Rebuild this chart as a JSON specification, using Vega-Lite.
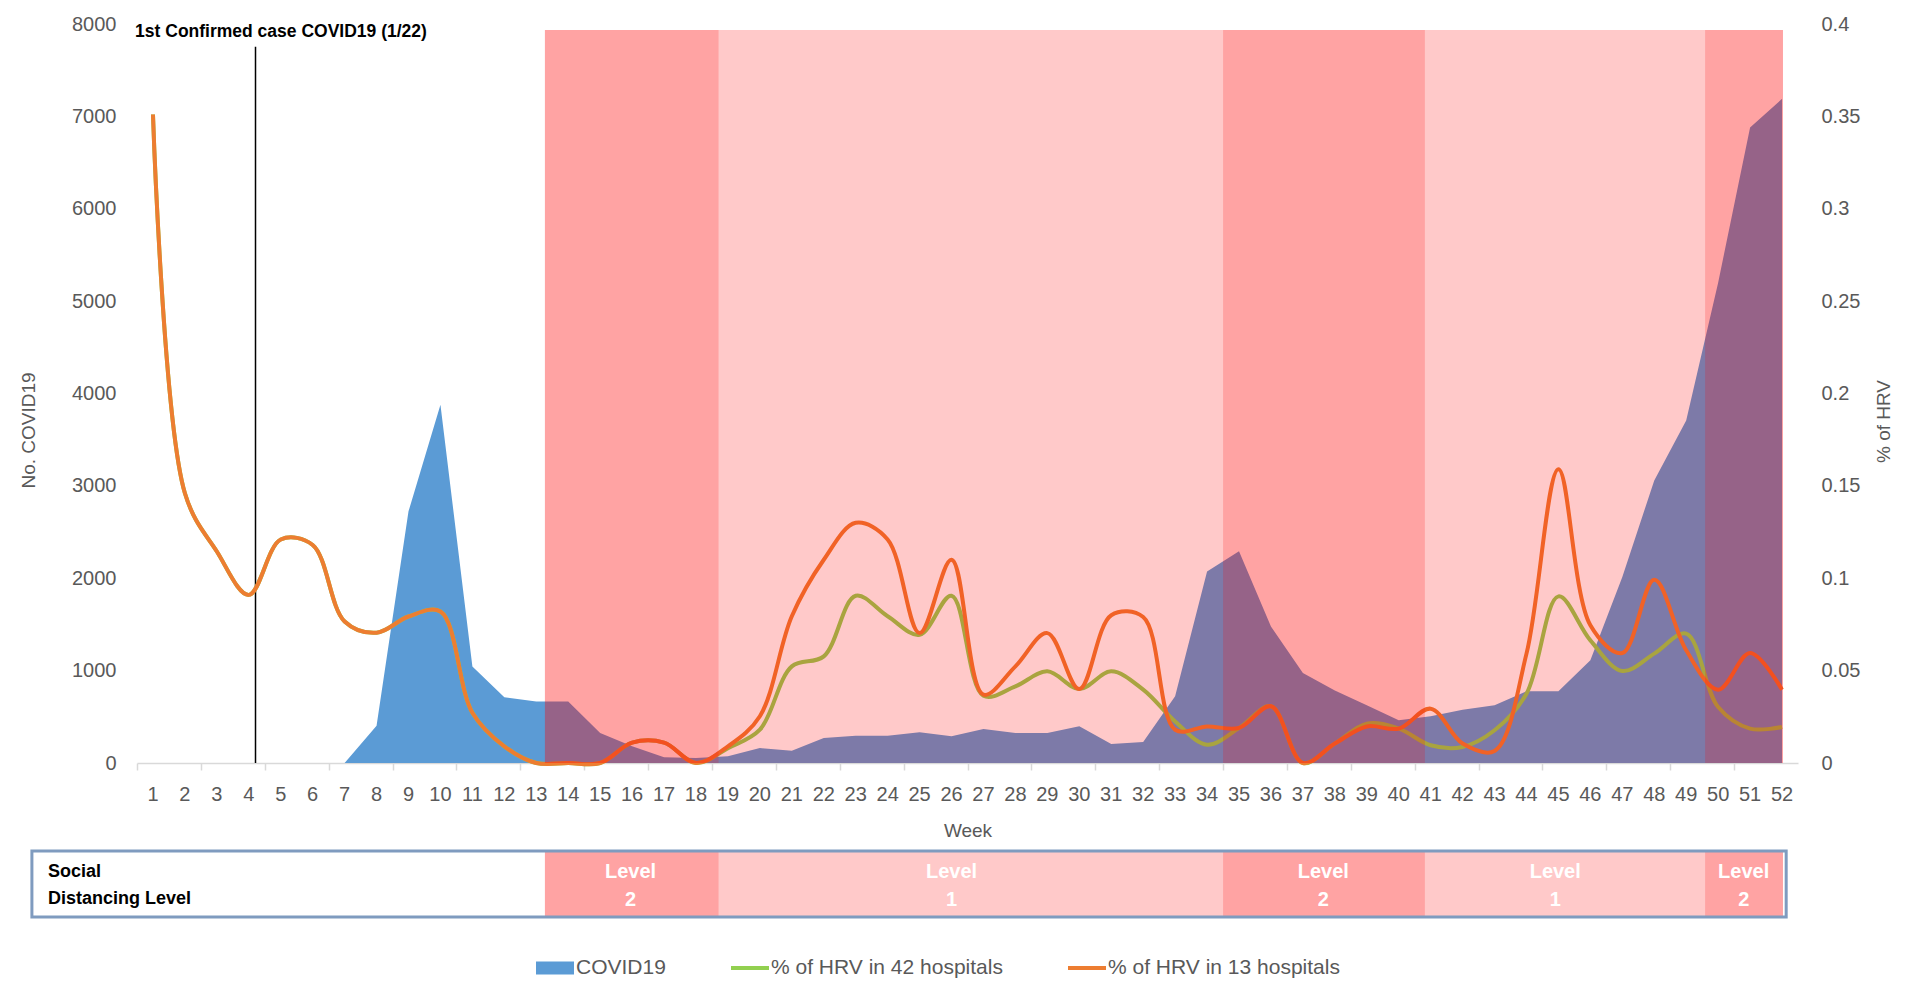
{
  "$schema": "https://vega.github.io/schema/vega-lite/v6.json",
  "background": "white",
  "padding": {"left": 19, "top": 14, "right": 5, "bottom": 5},
  "datasets": {
    "weeks": [
      {"week": 1, "covid": 0, "hrv42": 0.351, "hrv13": 0.351},
      {"week": 2, "covid": 0, "hrv42": 0.146, "hrv13": 0.146},
      {"week": 3, "covid": 0, "hrv42": 0.1145, "hrv13": 0.1145},
      {"week": 4, "covid": 0, "hrv42": 0.091, "hrv13": 0.091},
      {"week": 5, "covid": 0, "hrv42": 0.121, "hrv13": 0.121},
      {"week": 6, "covid": 0, "hrv42": 0.118, "hrv13": 0.118},
      {"week": 7, "covid": 0, "hrv42": 0.0766, "hrv13": 0.0766},
      {"week": 8, "covid": 404, "hrv42": 0.0705, "hrv13": 0.0705},
      {"week": 9, "covid": 2724, "hrv42": 0.0793, "hrv13": 0.0793},
      {"week": 10, "covid": 3878, "hrv42": 0.082, "hrv13": 0.082},
      {"week": 11, "covid": 1046, "hrv42": 0.0272, "hrv13": 0.0272},
      {"week": 12, "covid": 711, "hrv42": 0.009, "hrv13": 0.009},
      {"week": 13, "covid": 667, "hrv42": 0, "hrv13": 0},
      {"week": 14, "covid": 667, "hrv42": 0, "hrv13": 0},
      {"week": 15, "covid": 325, "hrv42": 0, "hrv13": 0},
      {"week": 16, "covid": 180, "hrv42": 0.011, "hrv13": 0.011},
      {"week": 17, "covid": 61, "hrv42": 0.011, "hrv13": 0.011},
      {"week": 18, "covid": 54, "hrv42": 0, "hrv13": 0},
      {"week": 19, "covid": 72, "hrv42": 0.008, "hrv13": 0.009},
      {"week": 20, "covid": 162, "hrv42": 0.018, "hrv13": 0.0253},
      {"week": 21, "covid": 133, "hrv42": 0.0523, "hrv13": 0.0794},
      {"week": 22, "covid": 271, "hrv42": 0.0577, "hrv13": 0.11},
      {"week": 23, "covid": 296, "hrv42": 0.0905, "hrv13": 0.13},
      {"week": 24, "covid": 296, "hrv42": 0.0794, "hrv13": 0.121},
      {"week": 25, "covid": 332, "hrv42": 0.0694, "hrv13": 0.0703},
      {"week": 26, "covid": 289, "hrv42": 0.0905, "hrv13": 0.11},
      {"week": 27, "covid": 368, "hrv42": 0.0364, "hrv13": 0.037},
      {"week": 28, "covid": 325, "hrv42": 0.0415, "hrv13": 0.0523},
      {"week": 29, "covid": 325, "hrv42": 0.0496, "hrv13": 0.0703},
      {"week": 30, "covid": 397, "hrv42": 0.04, "hrv13": 0.04},
      {"week": 31, "covid": 206, "hrv42": 0.0496, "hrv13": 0.08},
      {"week": 32, "covid": 227, "hrv42": 0.0397, "hrv13": 0.079},
      {"week": 33, "covid": 722, "hrv42": 0.0225, "hrv13": 0.018},
      {"week": 34, "covid": 2074, "hrv42": 0.0099, "hrv13": 0.0198},
      {"week": 35, "covid": 2291, "hrv42": 0.0189, "hrv13": 0.019},
      {"week": 36, "covid": 1479, "hrv42": 0.0307, "hrv13": 0.0307},
      {"week": 37, "covid": 974, "hrv42": 0, "hrv13": 0},
      {"week": 38, "covid": 786, "hrv42": 0.0105, "hrv13": 0.0105},
      {"week": 39, "covid": 624, "hrv42": 0.0213, "hrv13": 0.0198},
      {"week": 40, "covid": 462, "hrv42": 0.0186, "hrv13": 0.0186},
      {"week": 41, "covid": 505, "hrv42": 0.0096, "hrv13": 0.0294},
      {"week": 42, "covid": 577, "hrv42": 0.0087, "hrv13": 0.0105},
      {"week": 43, "covid": 624, "hrv42": 0.0177, "hrv13": 0.0065},
      {"week": 44, "covid": 776, "hrv42": 0.0375, "hrv13": 0.0592},
      {"week": 45, "covid": 776, "hrv42": 0.0902, "hrv13": 0.159},
      {"week": 46, "covid": 1111, "hrv42": 0.0664, "hrv13": 0.0745},
      {"week": 47, "covid": 2013, "hrv42": 0.0498, "hrv13": 0.0595},
      {"week": 48, "covid": 3059, "hrv42": 0.0592, "hrv13": 0.0992},
      {"week": 49, "covid": 3709, "hrv42": 0.07, "hrv13": 0.061},
      {"week": 50, "covid": 5200, "hrv42": 0.0303, "hrv13": 0.0397},
      {"week": 51, "covid": 6880, "hrv42": 0.0186, "hrv13": 0.0595},
      {"week": 52, "covid": 7190, "hrv42": 0.0195, "hrv13": 0.0397}
    ],
    "periods": [
      {"start": 13.27, "end": 18.71, "level": 2, "labelAt": 15.95, "label": "Level\n2"},
      {"start": 18.71, "end": 34.5, "level": 1, "labelAt": 26.0, "label": "Level\n1"},
      {"start": 34.5, "end": 40.82, "level": 2, "labelAt": 37.64, "label": "Level\n2"},
      {"start": 40.82, "end": 49.59, "level": 1, "labelAt": 44.9, "label": "Level\n1"},
      {"start": 49.59, "end": 52.03, "level": 2, "labelAt": 50.8, "label": "Level\n2"}
    ]
  },
  "config": {
    "view": {"stroke": null},
    "axis": {
      "grid": false,
      "labelFont": "Liberation Sans",
      "titleFont": "Liberation Sans",
      "labelColor": "#595959",
      "titleColor": "#595959",
      "titleFontWeight": "normal",
      "labelFontSize": 20,
      "titleFontSize": 19,
      "labelFlush": false
    }
  },
  "spacing": 8,
  "resolve": {"scale": {"color": "independent", "shape": "independent"}},
  "vconcat": [
    {
      "width": 1661,
      "height": 739,
      "layer": [
        {
          "layer": [
            {
              "data": {"name": "weeks"},
              "mark": {"type": "area", "color": "#5B9BD5", "interpolate": "linear"},
              "encoding": {
                "x": {
                  "field": "week", "type": "quantitative",
                  "scale": {"domain": [0.5, 52.5], "nice": false, "zero": false},
                  "axis": {
                    "orient": "bottom", "title": null, "labels": false,
                    "values": [1,2,3,4,5,6,7,8,9,10,11,12,13,14,15,16,17,18,19,20,21,22,23,24,25,26,27,28,29,30,31,32,33,34,35,36,37,38,39,40,41,42,43,44,45,46,47,48,49,50,51,52,53],
                    "ticks": true, "tickSize": 7, "tickColor": "#D9D9D9", "tickWidth": 1.5,
                    "tickOffset": -15.97,
                    "domain": true, "domainColor": "#D9D9D9", "domainWidth": 1.5
                  }
                },
                "y": {
                  "field": "covid", "type": "quantitative",
                  "scale": {"domain": [0, 8000], "nice": false},
                  "axis": {
                    "orient": "left", "title": "No. COVID19",
                    "values": [0,1000,2000,3000,4000,5000,6000,7000,8000],
                    "format": "d",
                    "ticks": false, "tickSize": 0, "domain": false, "labelPadding": 21,
                    "titleAngle": -90, "titleX": -109, "titleY": 406,
                    "titleAlign": "center", "titleBaseline": "middle"
                  }
                }
              }
            },
            {
              "data": {"values": [{"week": 4.21, "top": 7755, "bottom": 0}]},
              "mark": {"type": "rule", "color": "#000000", "strokeWidth": 1.5},
              "encoding": {
                "x": {"field": "week", "type": "quantitative"},
                "y": {"field": "top", "type": "quantitative"},
                "y2": {"field": "bottom"}
              }
            },
            {
              "data": {"values": [{"week": 0.44, "pos": 7915, "note": "1st Confirmed case COVID19 (1/22)"}]},
              "mark": {"type": "text", "align": "left", "baseline": "middle", "font": "Liberation Sans", "fontWeight": "bold", "fontSize": 17.5, "color": "#000000"},
              "encoding": {
                "x": {"field": "week", "type": "quantitative"},
                "y": {"field": "pos", "type": "quantitative"},
                "text": {"field": "note"}
              }
            }
          ]
        },
        {
          "layer": [
            {
              "data": {"name": "weeks"},
              "mark": {"type": "line", "color": "#92D050", "strokeWidth": 4, "interpolate": "catmull-rom"},
              "encoding": {
                "x": {"field": "week", "type": "quantitative"},
                "y": {
                  "field": "hrv42", "type": "quantitative",
                  "scale": {"domain": [0, 0.4], "nice": false},
                  "axis": {
                    "orient": "right", "title": "% of HRV",
                    "values": [0,0.05,0.1,0.15,0.2,0.25,0.3,0.35,0.4],
                    "format": ".2~f",
                    "ticks": false, "tickSize": 0, "domain": false, "labelPadding": 23,
                    "titleAngle": -90, "titleX": 85, "titleY": 397,
                    "titleAlign": "center", "titleBaseline": "middle"
                  }
                }
              }
            },
            {
              "data": {"name": "weeks"},
              "mark": {"type": "line", "color": "#ED7D31", "strokeWidth": 4, "interpolate": "catmull-rom"},
              "encoding": {
                "x": {"field": "week", "type": "quantitative"},
                "y": {"field": "hrv13", "type": "quantitative"}
              }
            },
            {
              "data": {"name": "periods"},
              "mark": {"type": "rect", "color": "#FF0000"},
              "encoding": {
                "x": {"field": "start", "type": "quantitative"},
                "x2": {"field": "end"},
                "y": {"datum": 0},
                "y2": {"datum": 0.39675},
                "opacity": {"field": "level", "type": "quantitative", "scale": {"domain": [1, 2], "range": [0.21, 0.36]}, "legend": null}
              }
            }
          ]
        }
      ],
      "resolve": {"scale": {"y": "independent"}}
    },
    {
      "width": 1661,
      "height": 27,
      "data": {"name": "weeks"},
      "mark": {"type": "text", "font": "Liberation Sans", "fontSize": 20, "color": "#595959", "baseline": "middle"},
      "encoding": {
        "x": {
          "field": "week", "type": "quantitative",
          "scale": {"domain": [0.5, 52.5], "nice": false, "zero": false},
          "axis": {"orient": "bottom", "title": "Week", "labels": false, "ticks": false, "domain": false, "titleY": 22.5, "titleBaseline": "middle"}
        },
        "text": {"field": "week", "type": "quantitative", "format": "d"}
      }
    },
    {
      "width": 1661,
      "height": 66,
      "layer": [
        {
          "data": {"name": "periods"},
          "mark": {"type": "rect", "color": "#FF0000"},
          "encoding": {
            "x": {"field": "start", "type": "quantitative", "scale": {"domain": [0.5, 52.5], "nice": false, "zero": false}, "axis": null},
            "x2": {"field": "end"},
            "opacity": {"field": "level", "type": "quantitative", "scale": {"domain": [1, 2], "range": [0.21, 0.36]}, "legend": null}
          }
        },
        {
          "data": {"values": [{"start": -2.79, "end": 52.13}]},
          "mark": {"type": "rect", "filled": false, "stroke": "#7F9BBF", "strokeWidth": 3},
          "encoding": {
            "x": {"field": "start", "type": "quantitative"},
            "x2": {"field": "end"}
          }
        },
        {
          "data": {"name": "periods"},
          "mark": {"type": "text", "color": "#FFFFFF", "font": "Liberation Sans", "fontWeight": "bold", "fontSize": 20, "lineBreak": "\n", "lineHeight": 28, "baseline": "middle", "dy": -12},
          "encoding": {
            "x": {"field": "labelAt", "type": "quantitative"},
            "text": {"field": "label"}
          }
        },
        {
          "data": {"values": [{"start": -2.79, "label": "Social\nDistancing Level"}]},
          "mark": {"type": "text", "color": "#000000", "align": "left", "font": "Liberation Sans", "fontWeight": "bold", "fontSize": 18, "lineBreak": "\n", "lineHeight": 27, "baseline": "middle", "dx": 16, "dy": -12},
          "encoding": {
            "x": {"field": "start", "type": "quantitative"},
            "text": {"field": "label"}
          }
        },
        {
          "data": {"values": [{"series": "COVID19"}, {"series": "% of HRV in 42 hospitals"}, {"series": "% of HRV in 13 hospitals"}]},
          "mark": {"type": "point", "filled": true, "opacity": 0},
          "encoding": {
            "color": {
              "field": "series", "type": "nominal",
              "scale": {"domain": ["COVID19", "% of HRV in 42 hospitals", "% of HRV in 13 hospitals"], "range": ["#5B9BD5", "#92D050", "#ED7D31"]},
              "legend": {"orient": "none", "legendX": 399, "legendY": 98, "direction": "horizontal", "title": null, "symbolSize": 1444, "labelFontSize": 21, "labelFont": "Liberation Sans", "labelColor": "#595959", "labelOffset": 2, "labelLimit": 0, "columnPadding": 65, "symbolOpacity": 1, "symbolStrokeWidth": 0}
            },
            "shape": {
              "field": "series", "type": "nominal",
              "scale": {"domain": ["COVID19", "% of HRV in 42 hospitals", "% of HRV in 13 hospitals"], "range": ["M-1,-0.34H1V0.34H-1Z", "M-1,-0.11H1V0.11H-1Z", "M-1,-0.11H1V0.11H-1Z"]},
              "legend": {"orient": "none", "legendX": 399, "legendY": 98, "direction": "horizontal", "title": null, "symbolSize": 1444, "labelFontSize": 21, "labelFont": "Liberation Sans", "labelColor": "#595959", "labelOffset": 2, "labelLimit": 0, "columnPadding": 65, "symbolOpacity": 1, "symbolStrokeWidth": 0}
            }
          }
        }
      ]
    }
  ]
}
